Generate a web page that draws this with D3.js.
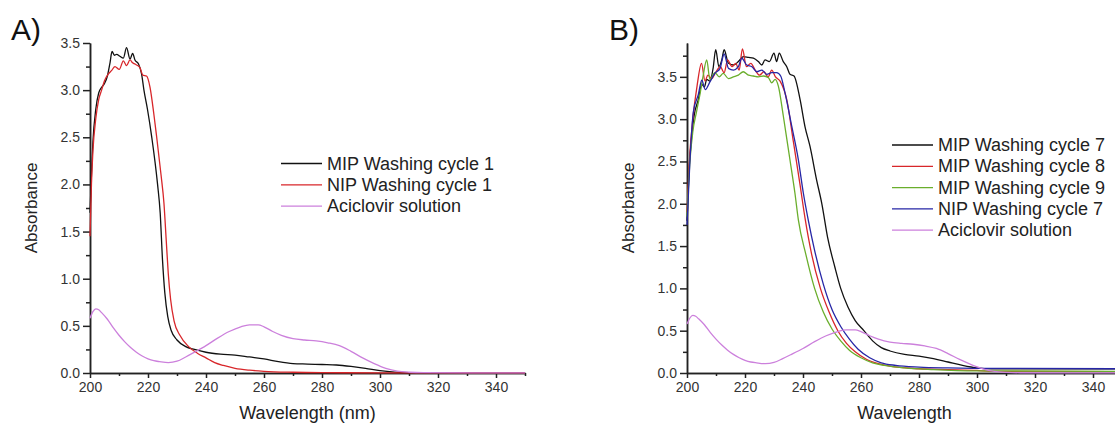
<!DOCTYPE html>
<html>
<head>
<meta charset="utf-8">
<script src="https://cdn.jsdelivr.net/npm/d3@7"></script>
<style>
body { margin:0; background:#fff; }
svg { display:block; font-family: "Liberation Sans", Arial, sans-serif; }
.axis path, .axis line { stroke:#222; stroke-width:1.5; }
.axis text { fill:#333; font-size:14px; font-family:"Liberation Sans", Arial, sans-serif; }
</style>
</head>
<body>
<div id="chart"></div>
<script>
// wavelength (nm), absorbance
var wlTicks = [200,220,240,260,280,300,320,340];
var absTicks = [0,0.5,1.0,1.5,2.0,2.5,3.0,3.5];

var aMip1 = [[200,1.7],[200.5,2.1],[201,2.45],[202,2.8],[203,2.97],[204,3.03],[205,3.07],[206,3.15],[206.9,3.29],[207.6,3.41],[208.4,3.37],[209.2,3.38],[210.3,3.36],[211.5,3.34],[212.6,3.45],[213.8,3.33],[214.7,3.39],[215.5,3.32],[216.7,3.28],[217.8,3.17],[218.6,3.0],[219.8,2.8],[221.3,2.5],[223.3,2.0],[224.2,1.7],[225,1.2],[225.8,0.85],[226.8,0.6],[228,0.45],[230,0.35],[233,0.28],[236,0.25],[240,0.22],[245,0.2],[250,0.19],[255,0.17],[260,0.15],[265,0.12],[270,0.1],[275,0.095],[280,0.09],[285,0.085],[290,0.07],[295,0.05],[300,0.025],[305,0.01],[310,0.004],[320,0.002],[350,0.002]];
var aNip1 = [[200,1.45],[200.5,2.0],[201,2.35],[202,2.7],[203,2.9],[204,3.0],[205,3.1],[206.3,3.17],[207.5,3.21],[208.6,3.25],[210.1,3.22],[211.5,3.31],[212.6,3.26],[213.8,3.32],[214.7,3.29],[215.9,3.27],[217.2,3.24],[218.2,3.16],[219.5,3.15],[220.7,3.03],[222,2.75],[223,2.5],[224.5,2.1],[225.5,1.8],[226.3,1.4],[227,1.05],[227.8,0.78],[229,0.55],[231,0.4],[234,0.28],[237,0.21],[240,0.16],[243,0.11],[246,0.08],[250,0.05],[255,0.03],[260,0.018],[270,0.008],[280,0.004],[300,0.002],[350,0.002]];
var aciclovir = [[200,0.58],[201,0.65],[202,0.68],[203,0.67],[204,0.64],[206,0.57],[208,0.48],[210,0.4],[212,0.33],[214,0.27],[216,0.22],[218,0.18],[220,0.15],[222,0.13],[224,0.12],[227,0.11],[230,0.125],[233,0.17],[236,0.22],[240,0.29],[244,0.37],[248,0.44],[252,0.49],[255,0.51],[258,0.51],[260,0.49],[263,0.44],[266,0.4],[270,0.365],[274,0.35],[278,0.34],[282,0.32],[286,0.29],[290,0.23],[294,0.16],[298,0.1],[302,0.05],[306,0.02],[310,0.008],[315,0.003],[350,0.002]];

var bMip7 = [[200,1.8],[200.7,2.4],[201.5,2.75],[202.5,3.05],[203.9,3.23],[205.1,3.41],[206,3.38],[206.8,3.47],[207.9,3.45],[209,3.6],[209.9,3.82],[211,3.62],[212,3.7],[212.8,3.82],[214.3,3.66],[216,3.64],[217.7,3.68],[219.4,3.74],[221.2,3.73],[222.9,3.72],[224.6,3.68],[225.8,3.64],[226.9,3.7],[228.4,3.68],[230,3.78],[230.9,3.68],[231.8,3.78],[233.2,3.68],[234.4,3.62],[235.5,3.53],[236.9,3.51],[239,3.23],[240.7,2.91],[242.4,2.68],[244.7,2.28],[246.5,2.0],[248.5,1.6],[251,1.25],[253,1.0],[255.5,0.78],[258,0.62],[261,0.5],[264,0.38],[267,0.3],[270,0.26],[275,0.22],[280,0.2],[285,0.17],[290,0.13],[295,0.09],[300,0.06],[305,0.05],[320,0.05],[350,0.05]];
var bMip8 = [[200,1.9],[201,2.6],[202,3.0],[203.5,3.4],[205,3.66],[206.2,3.45],[207.2,3.52],[208.5,3.48],[210,3.56],[211.5,3.62],[212.8,3.55],[214,3.7],[215.5,3.62],[216.8,3.66],[218,3.58],[219.1,3.83],[220.5,3.62],[222,3.66],[223.5,3.58],[225,3.52],[226.5,3.56],[228,3.5],[229.2,3.58],[230.5,3.5],[232.1,3.45],[234.4,3.23],[236.7,2.73],[239,2.22],[240.7,1.83],[243,1.4],[246,1.0],[249,0.72],[252,0.5],[255,0.35],[258,0.25],[262,0.16],[266,0.11],[270,0.08],[280,0.05],[290,0.04],[300,0.03],[305,0.02],[350,0.015]];
var bMip9 = [[200,1.85],[201,2.5],[202,2.85],[203.3,3.09],[204.5,3.3],[205.5,3.5],[206.8,3.7],[207.9,3.47],[209.6,3.55],[211.1,3.5],[212.5,3.54],[214.3,3.48],[216,3.5],[217.7,3.52],[219.4,3.56],[221.2,3.52],[222.9,3.51],[224.6,3.5],[226.4,3.51],[228.1,3.49],[229.2,3.43],[230.4,3.47],[231.5,3.39],[233.2,3.04],[235.5,2.52],[237.2,2.13],[238.4,1.81],[241,1.4],[244,1.0],[247,0.72],[250,0.52],[253,0.38],[256,0.27],[260,0.18],[264,0.12],[268,0.09],[275,0.06],[285,0.04],[300,0.025],[350,0.02]];
var bNip7 = [[200,1.75],[201,2.5],[202.2,3.09],[203.9,3.29],[205.1,3.46],[206.3,3.35],[207.9,3.44],[209.6,3.54],[211.4,3.6],[212.8,3.77],[214.3,3.6],[216,3.58],[217.7,3.62],[218.9,3.72],[220.6,3.64],[222.4,3.62],[224.1,3.56],[225.8,3.58],[227.5,3.53],[229.2,3.55],[230.9,3.55],[232.3,3.51],[233.8,3.31],[236.1,2.92],[238.4,2.52],[240.1,2.13],[241.8,1.81],[244,1.45],[247,1.05],[250,0.75],[253,0.55],[256,0.4],[259,0.28],[263,0.18],[267,0.12],[272,0.09],[280,0.07],[290,0.06],[300,0.055],[350,0.05]];

var seriesA = [
  {name:"MIP Washing cycle 1", color:"#111", data:aMip1},
  {name:"NIP Washing cycle 1", color:"#d8262a", data:aNip1},
  {name:"Aciclovir solution", color:"#cc80dc", data:aciclovir}
];
var seriesB = [
  {name:"MIP Washing cycle 7", color:"#111", data:bMip7},
  {name:"MIP Washing cycle 8", color:"#d8262a", data:bMip8},
  {name:"MIP Washing cycle 9", color:"#6aae2c", data:bMip9},
  {name:"NIP Washing cycle 7", color:"#2626a6", data:bNip7},
  {name:"Aciclovir solution", color:"#cc80dc", data:aciclovir}
];

var W = 1115, H = 423;
var svg = d3.select("#chart").append("svg")
    .attr("width", W)
    .attr("height", H);

function drawPanel(p) {
  var x = d3.scaleLinear().domain([200,350]).range([p.x0, p.x1]);
  var y = d3.scaleLinear().domain([0, p.yMax]).range([373, 43]);
  var g = svg.append("g");

  // minor ticks
  g.append("g").attr("class","axis")
    .attr("transform","translate(0,373)")
    .call(d3.axisBottom(x).tickValues(d3.range(210,351,20)).tickSize(3).tickSizeOuter(0).tickFormat(""));
  g.append("g").attr("class","axis")
    .attr("transform","translate(" + p.x0 + ",0)")
    .call(d3.axisLeft(y).tickValues(d3.range(0.25, p.yMax, 0.5)).tickSize(4).tickSizeOuter(0).tickFormat(""));

  // major
  g.append("g").attr("class","axis")
    .attr("transform","translate(0,373)")
    .call(d3.axisBottom(x).tickValues(wlTicks).tickSize(5).tickPadding(4).tickSizeOuter(0));
  g.append("g").attr("class","axis")
    .attr("transform","translate(" + p.x0 + ",0)")
    .call(d3.axisLeft(y).tickValues(absTicks).tickSize(7).tickPadding(3).tickSizeOuter(0).tickFormat(d3.format(".1f")));

  var line = d3.line()
    .x(function(d){ return x(d[0]); })
    .y(function(d){ return y(d[1]); })
    .curve(d3.curveMonotoneX);

  p.series.forEach(function(s){
    g.append("path")
      .datum(s.data)
      .attr("fill","none")
      .attr("stroke", s.color)
      .attr("stroke-width", 1.3)
      .attr("stroke-linejoin","round")
      .attr("d", line);
  });

  // legend
  p.series.forEach(function(s, i){
    var ly = p.legY + i * 21.3;
    g.append("line")
      .attr("x1", p.legX).attr("x2", p.legX + 41)
      .attr("y1", ly).attr("y2", ly)
      .attr("stroke", s.color).attr("stroke-width", 1.3);
    g.append("text")
      .attr("x", p.legX + 46).attr("y", ly + 6)
      .attr("font-size", 18).attr("fill","#222")
      .text(s.name);
  });

  // labels
  g.append("text")
    .attr("x", p.labelX).attr("y", 40)
    .attr("font-size", 30).attr("fill","#111")
    .text(p.label);
  g.append("text")
    .attr("transform","translate(" + (p.x0 - 53) + ",208) rotate(-90)")
    .attr("text-anchor","middle")
    .attr("font-size", 17).attr("fill","#222")
    .text("Absorbance");
  g.append("text")
    .attr("x", (p.x0 + p.x1) / 2).attr("y", 419)
    .attr("text-anchor","middle")
    .attr("font-size", 18).attr("fill","#222")
    .text(p.xTitle);
}

drawPanel({x0:90, x1:525, yMax:3.5, series:seriesA, legX:281, legY:163.5,
  label:"A)", labelX:11, xTitle:"Wavelength (nm)"});
drawPanel({x0:687, x1:1122, yMax:3.9, series:seriesB, legX:892, legY:145,
  label:"B)", labelX:609, xTitle:"Wavelength"});
</script>
</body>
</html>
